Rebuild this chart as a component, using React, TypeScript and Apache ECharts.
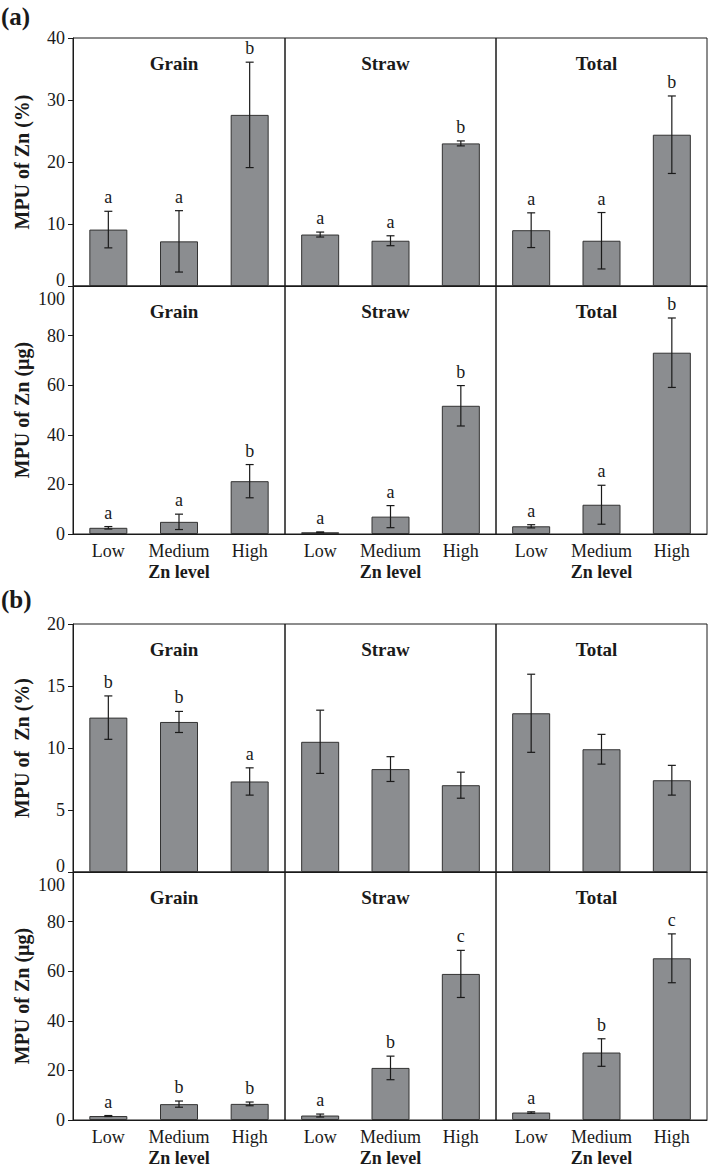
import React, { useEffect, useRef } from "react";
import * as echarts from "echarts";

const levels = ["Low", "Medium", "High"];
const parts = ["Grain", "Straw", "Total"];

// (a) MPU of Zn (%)
const aPctGrain = [9.1, 7.2, 27.6];
const aPctGrainErr = [2.95, 4.95, 8.5];
const aPctGrainLet = ["a", "a", "b"];
const aPctStraw = [8.3, 7.3, 23.0];
const aPctStrawErr = [0.4, 0.8, 0.4];
const aPctStrawLet = ["a", "a", "b"];
const aPctTotal = [9.0, 7.3, 24.4];
const aPctTotalErr = [2.8, 4.55, 6.25];
const aPctTotalLet = ["a", "a", "b"];

// (a) MPU of Zn (µg)
const aUgGrain = [2.5, 4.9, 21.3];
const aUgGrainErr = [0.5, 3.1, 6.7];
const aUgGrainLet = ["a", "a", "b"];
const aUgStraw = [0.7, 7.0, 51.7];
const aUgStrawErr = [0.15, 4.45, 8.15];
const aUgStrawLet = ["a", "a", "b"];
const aUgTotal = [3.1, 11.8, 73.1];
const aUgTotalErr = [0.65, 7.85, 14.0];
const aUgTotalLet = ["a", "a", "b"];

// (b) MPU of Zn (%)
const bPctGrain = [12.45, 12.1, 7.3];
const bPctGrainErr = [1.75, 0.85, 1.1];
const bPctGrainLet = ["b", "b", "a"];
const bPctStraw = [10.5, 8.3, 7.0];
const bPctStrawErr = [2.55, 1.0, 1.05];
const bPctStrawLet = ["", "", ""];
const bPctTotal = [12.8, 9.9, 7.4];
const bPctTotalErr = [3.15, 1.2, 1.2];
const bPctTotalLet = ["", "", ""];

// (b) MPU of Zn (µg)
const bUgGrain = [1.6, 6.4, 6.5];
const bUgGrainErr = [0.2, 1.25, 0.75];
const bUgGrainLet = ["a", "b", "b"];
const bUgStraw = [1.8, 21.0, 58.9];
const bUgStrawErr = [0.6, 4.75, 9.5];
const bUgStrawLet = ["a", "b", "c"];
const bUgTotal = [3.0, 27.2, 65.2];
const bUgTotalErr = [0.3, 5.55, 9.85];
const bUgTotalLet = ["a", "b", "c"];

const rowMax = [40, 100, 20, 100];
const rowInterval = [10, 20, 5, 20];
const rowNames = ["MPU of Zn (%)", "MPU of Zn (µg)", "MPU of  Zn (%)", "MPU of Zn (µg)"];

const rows = [
  [[aPctGrain, aPctGrainErr, aPctGrainLet], [aPctStraw, aPctStrawErr, aPctStrawLet], [aPctTotal, aPctTotalErr, aPctTotalLet]],
  [[aUgGrain, aUgGrainErr, aUgGrainLet], [aUgStraw, aUgStrawErr, aUgStrawLet], [aUgTotal, aUgTotalErr, aUgTotalLet]],
  [[bPctGrain, bPctGrainErr, bPctGrainLet], [bPctStraw, bPctStrawErr, bPctStrawLet], [bPctTotal, bPctTotalErr, bPctTotalLet]],
  [[bUgGrain, bUgGrainErr, bUgGrainLet], [bUgStraw, bUgStrawErr, bUgStrawLet], [bUgTotal, bUgTotalErr, bUgTotalLet]],
];

const FONT = "Liberation Serif";
const INK = "#1a1a1a";

function buildOption() {
  const rowTops = [38, 286, 624, 872];
  const rowH = 248;
  const colLefts = [73, 285, 496];
  const colW = [212, 211, 211];

  const grid: any[] = [];
  const xAxis: any[] = [];
  const yAxis: any[] = [];
  const series: any[] = [];
  const graphic: any[] = [];

  rows.forEach((row, r) => {
    const isBottom = r === 1 || r === 3;
    const isTop = r === 0 || r === 2;
    row.forEach((cell, c) => {
      const idx = r * 3 + c;
      const [mean, err, letters] = cell as [number[], number[], string[]];
      grid.push({
        left: colLefts[c],
        top: rowTops[r],
        width: colW[c],
        height: rowH,
        show: true,
        borderColor: INK,
        borderWidth: 1,
        containLabel: false,
      });
      xAxis.push({
        type: "category",
        gridIndex: idx,
        data: levels,
        axisLine: { show: true, lineStyle: { color: INK, width: 1 } },
        axisTick: { show: false },
        axisLabel: {
          show: isBottom,
          interval: 0,
          hideOverlap: false,
          fontFamily: FONT,
          fontSize: 18,
          color: INK,
          margin: 8,
        },
        name: isBottom ? "Zn level" : "",
        nameLocation: "middle",
        nameGap: 29,
        nameTextStyle: { fontFamily: FONT, fontSize: 18, fontWeight: "bold", color: INK },
        splitLine: { show: false },
      });
      yAxis.push({
        type: "value",
        gridIndex: idx,
        min: 0,
        max: rowMax[r],
        interval: rowInterval[r],
        show: c === 0,
        axisLine: { show: true, lineStyle: { color: INK, width: 1 } },
        axisTick: { show: true, inside: false, length: 5, lineStyle: { color: INK } },
        splitLine: { show: false },
        axisLabel: {
          fontFamily: FONT,
          fontSize: 18,
          color: INK,
          margin: 8,
          formatter: (v: number) => {
            if (isTop && v === 0) return "{up|0}";
            if (isBottom && v === rowMax[r]) return "{down|" + v + "}";
            return String(v);
          },
          rich: {
            up: { fontFamily: FONT, fontSize: 18, color: INK, padding: [0, 0, 12, 0] },
            down: { fontFamily: FONT, fontSize: 18, color: INK, padding: [26, 0, 0, 0] },
          },
        },
        name: c === 0 ? rowNames[r] : "",
        nameLocation: "middle",
        nameGap: 41,
        nameTextStyle: { fontFamily: FONT, fontSize: 20, fontWeight: "bold", color: INK },
      });
      series.push({
        type: "bar",
        xAxisIndex: idx,
        yAxisIndex: idx,
        data: mean,
        barWidth: 38,
        itemStyle: { color: "#8b8d90", borderColor: "#333", borderWidth: 1 },
        silent: true,
      });
      series.push({
        type: "custom",
        xAxisIndex: idx,
        yAxisIndex: idx,
        data: mean.map((m, j) => [j, m - err[j], m + err[j]]),
        silent: true,
        z: 5,
        renderItem: (params: any, api: any) => {
          const xi = api.value(0);
          const lo = api.coord([xi, api.value(1)]);
          const hi = api.coord([xi, api.value(2)]);
          const cw = 4;
          const ls = { stroke: INK, lineWidth: 1.2 };
          const children: any[] = [
            { type: "line", shape: { x1: hi[0], y1: hi[1], x2: lo[0], y2: lo[1] }, style: ls },
            { type: "line", shape: { x1: hi[0] - cw, y1: hi[1], x2: hi[0] + cw, y2: hi[1] }, style: ls },
            { type: "line", shape: { x1: lo[0] - cw, y1: lo[1], x2: lo[0] + cw, y2: lo[1] }, style: ls },
          ];
          const letter = letters[params.dataIndex];
          if (letter) {
            children.push({
              type: "text",
              style: {
                text: letter,
                x: hi[0],
                y: hi[1] - 5,
                textAlign: "center",
                align: "center",
                textVerticalAlign: "bottom",
                verticalAlign: "bottom",
                fontFamily: FONT,
                fontSize: 18,
                fill: INK,
              },
            });
          }
          return { type: "group", children };
        },
      });
      graphic.push({
        type: "text",
        x: colLefts[c] + colW[c] / 2 - 5,
        y: rowTops[r] + 25,
        style: {
          text: parts[c],
          textAlign: "center",
          textVerticalAlign: "middle",
          fontFamily: FONT,
          fontSize: 19,
          fontWeight: "bold",
          fill: INK,
        },
      });
    });
  });

  graphic.push({
    type: "text",
    x: 1,
    y: 16,
    style: { text: "(a)", textAlign: "left", textVerticalAlign: "middle", fontFamily: FONT, fontSize: 25, fontWeight: "bold", fill: INK },
  });
  graphic.push({
    type: "text",
    x: 1,
    y: 599,
    style: { text: "(b)", textAlign: "left", textVerticalAlign: "middle", fontFamily: FONT, fontSize: 25, fontWeight: "bold", fill: INK },
  });

  return {
    animation: false,
    backgroundColor: "#ffffff",
    textStyle: { fontFamily: FONT },
    grid,
    xAxis,
    yAxis,
    series,
    graphic,
  };
}

export default function App() {
  const ref = useRef<HTMLDivElement>(null);
  useEffect(() => {
    if (!ref.current) return;
    const chart = echarts.init(ref.current, undefined, { renderer: "svg" });
    chart.setOption(buildOption() as any);
    return () => chart.dispose();
  }, []);
  return (
    <div
      ref={ref}
      style={{ position: "absolute", left: 0, top: 0, width: 709, height: 1170, background: "#fff" }}
    />
  );
}
